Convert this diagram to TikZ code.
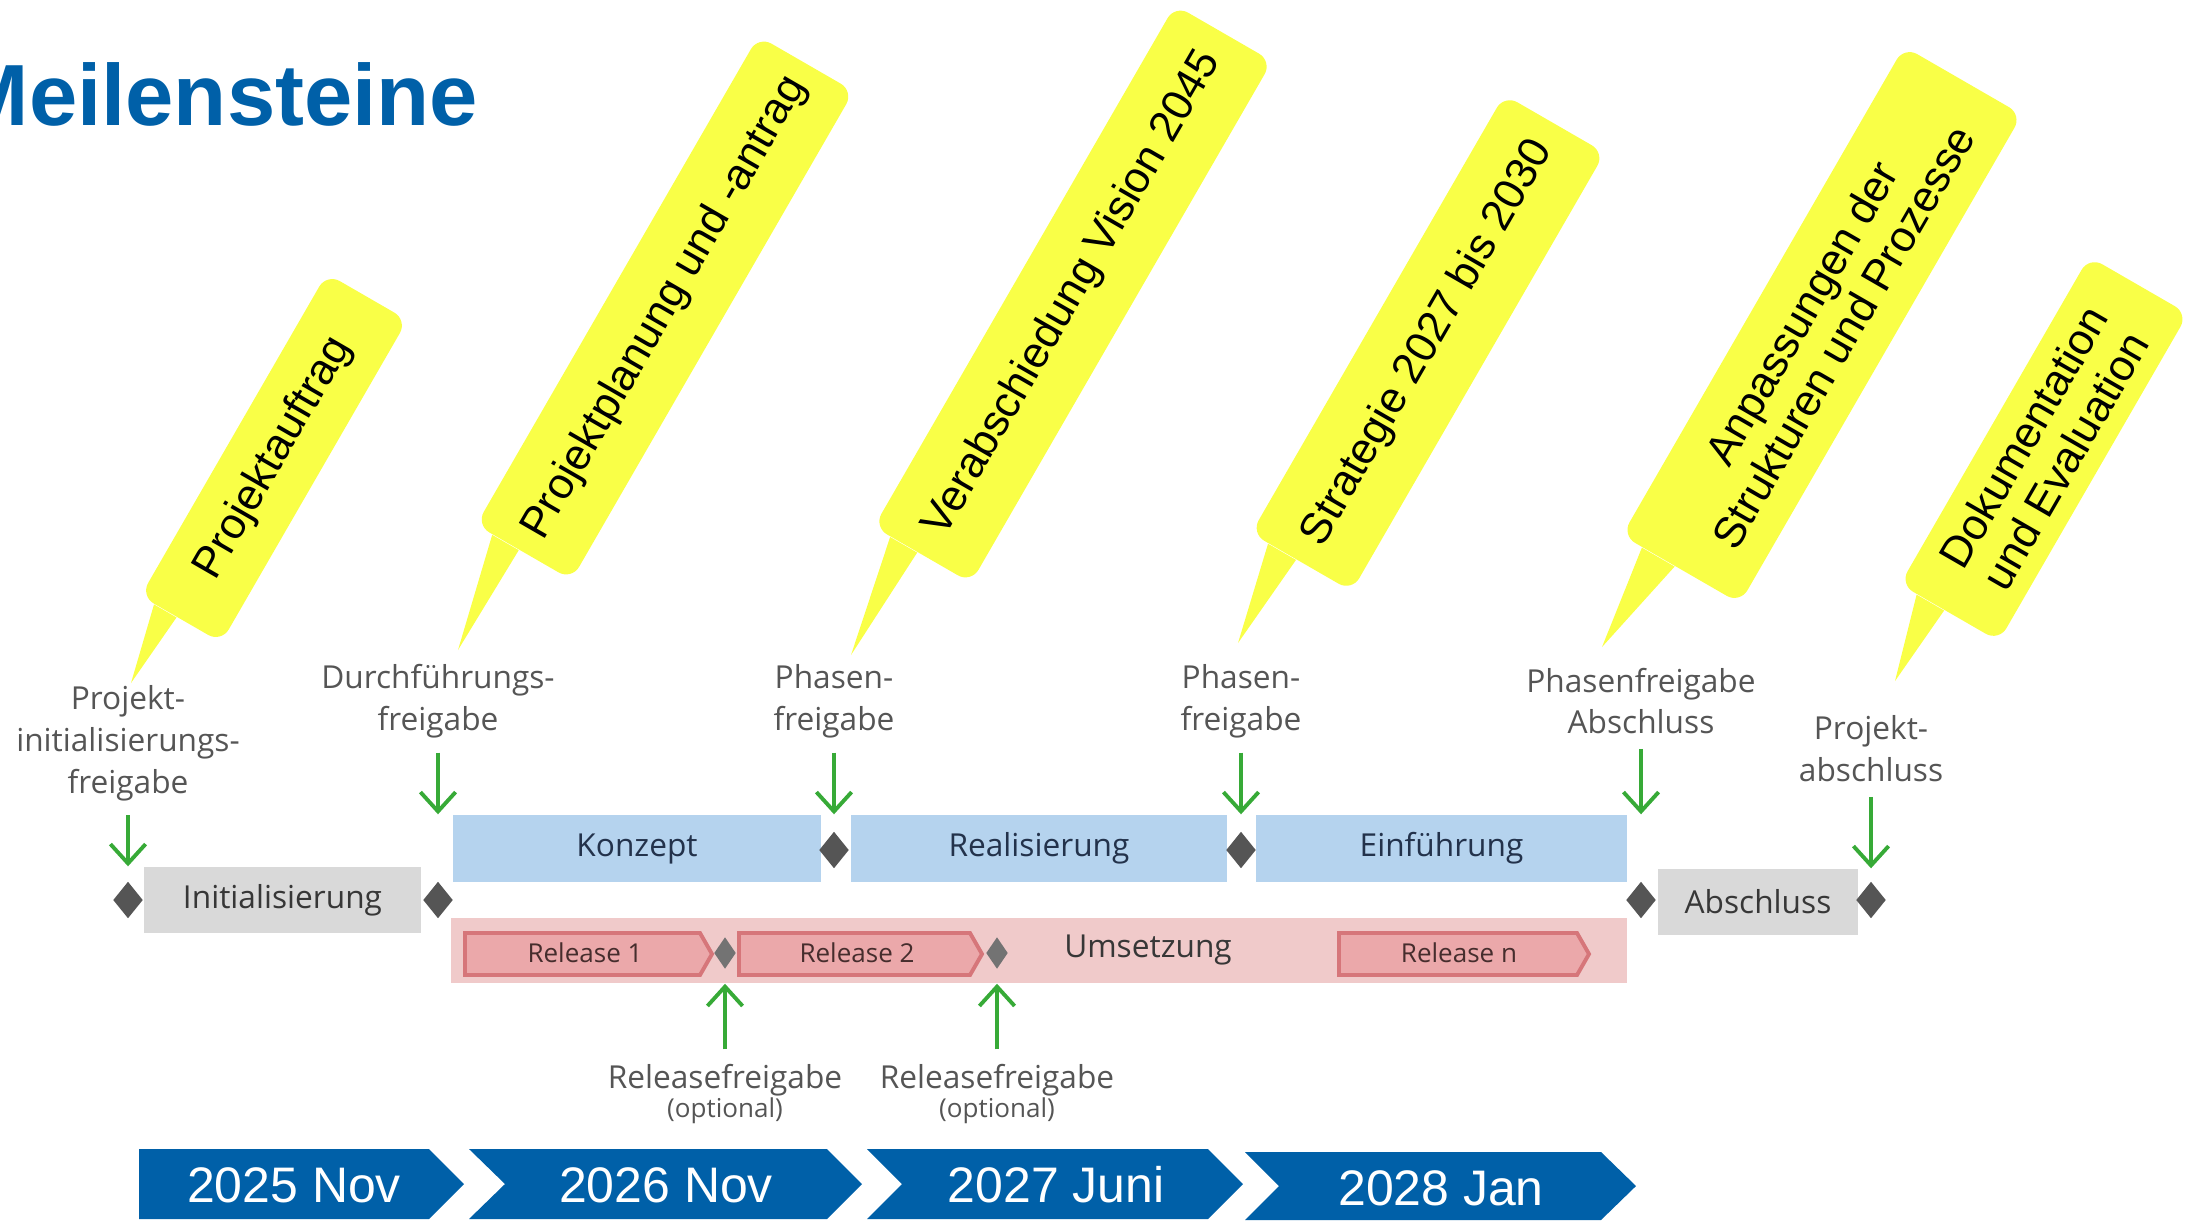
\documentclass[tikz,border=0pt]{standalone}
\usepackage{fontspec}
\setmainfont{Open Sans}
\newfontfamily\arialfont{Liberation Sans}
\usetikzlibrary{shapes.geometric,arrows.meta,calc}
\definecolor{titleblue}{RGB}{0,96,168}
\definecolor{callyellow}{RGB}{249,255,71}
\definecolor{lblgray}{RGB}{85,85,85}
\definecolor{boxgray}{RGB}{217,217,217}
\definecolor{boxtext}{RGB}{55,55,55}
\definecolor{phaseblue}{RGB}{181,211,238}
\definecolor{phasetext}{RGB}{35,50,75}
\definecolor{bandpink}{RGB}{240,202,202}
\definecolor{relfill}{RGB}{235,168,170}
\definecolor{relborder}{RGB}{214,118,122}
\definecolor{reltext}{RGB}{70,45,45}
\definecolor{gategray}{RGB}{85,85,85}
\definecolor{relgray}{RGB}{115,115,115}
\definecolor{gogreen}{RGB}{55,170,55}
\begin{document}
\begin{tikzpicture}[x=0.01cm,y=-0.01cm,
  bubble/.style={fill=callyellow,rounded corners=0.15cm,rotate=60,inner sep=0pt,align=center,font=\arialfont\fontsize{12.4}{13.6}\selectfont},
  lbl/.style={inner sep=0pt,align=center,text=lblgray,font=\fontsize{9}{11.9}\selectfont},
  phasebox/.style={fill=phaseblue,minimum height=0.67cm,inner sep=0pt,text=phasetext,font=\fontsize{9}{11}\selectfont},
  gatebox/.style={fill=boxgray,minimum height=0.66cm,inner sep=0pt,text=boxtext,font=\fontsize{9}{11}\selectfont},
  gate/.style={diamond,fill=gategray,inner sep=0pt,minimum width=0.30cm,minimum height=0.37cm},
  relgate/.style={diamond,fill=relgray,inner sep=0pt,minimum width=0.22cm,minimum height=0.32cm},
  relshape/.style={draw=relborder,fill=relfill,line width=1.1pt,line join=miter},
  reltxt/.style={inner sep=0pt,text=reltext,font=\fontsize{7.4}{9}\selectfont},
  datetxt/.style={inner sep=0pt,text=white,font=\arialfont\fontsize{14.2}{17}\selectfont},
  go/.style={draw=gogreen,line width=1.1pt,-{Straight Barb[length=5.5pt,width=10pt]},shorten <=4pt}]
\useasboundingbox (0,0) rectangle (2200,1220);
\node[anchor=base west,inner sep=0pt,text=titleblue,font=\arialfont\bfseries\fontsize{24.7}{30}\selectfont] (title) at (-44,125) {Meilensteine};
\node[bubble,minimum width=3.72cm,minimum height=0.93cm] (b1) at (274,458) {Projektauftrag};
\node[bubble,minimum width=5.64cm,minimum height=1.10cm] (b2) at (665,308) {Projektplanung und -antrag};
\node[bubble,minimum width=6.02cm,minimum height=1.12cm] (b3) at (1073,294) {Verabschiedung Vision 2045};
\node[bubble,minimum width=5.06cm,minimum height=1.16cm] (b4) at (1428,343) {Strategie 2027 bis 2030};
\node[bubble,minimum width=5.64cm,minimum height=1.36cm] (b5) at (1822,325) {Anpassungen der\\Strukturen und Prozesse};
\node[bubble,minimum width=3.78cm,minimum height=1.14cm] (b6) at (2044,449) {Dokumentation\\und Evaluation};
\coordinate (t1) at (131,683);
\coordinate (t2) at (458,650);
\coordinate (t3) at (851,655);
\coordinate (t4) at (1238,643);
\coordinate (t5) at (1602,647);
\coordinate (t6) at (1895,681);
\foreach \i in {1,...,6}
  \fill[callyellow] ($(b\i.west)!0.1!(b\i.north west)$) -- ($(b\i.west)!0.65!(b\i.north west)$) -- (t\i) -- cycle;
\node[lbl] (l1) at (128,743) {Projekt-\\initialisierungs-\\freigabe};
\node[lbl] (l2) at (438,701) {Durchführungs-\\freigabe};
\node[lbl] (l3) at (834,701) {Phasen-\\freigabe};
\node[lbl] (l4) at (1241,701) {Phasen-\\freigabe};
\node[lbl] (l5) at (1641,701) {Phasenfreigabe\\Abschluss};
\node[lbl] (l6) at (1871,749) {Projekt-\\abschluss};
\node[gatebox,minimum width=2.77cm] (init) at (282.5,900) {Initialisierung};
\node[phasebox,minimum width=3.68cm] (konz) at (637,848.5) {Konzept};
\node[phasebox,minimum width=3.76cm] (real) at (1039,848.5) {Realisierung};
\node[phasebox,minimum width=3.71cm] (einf) at (1441.5,848.5) {Einführung};
\node[gatebox,minimum width=2.00cm] (absc) at (1758,902) {Abschluss};
\node[fill=bandpink,inner sep=0pt,minimum width=11.76cm,minimum height=0.65cm] (umse) at (1039,950.5) {};
\node[inner sep=0pt,text=boxtext,font=\fontsize{9}{11}\selectfont] (umtx) at (1148,950) {Umsetzung};
\node[gate] (d1) at (128,900) {};
\node[gate] (d2) at (438,900) {};
\node[gate] (d3) at (834,850) {};
\node[gate] (d4) at (1241,850) {};
\node[gate] (d5) at (1641,900) {};
\node[gate] (d6) at (1871,900) {};
\draw[relshape] (465,933) -- (700,933) -- (712,954) -- (700,975) -- (465,975) -- cycle;
\draw[relshape] (739,933) -- (970,933) -- (982,954) -- (970,975) -- (739,975) -- cycle;
\draw[relshape] (1339,933) -- (1577,933) -- (1589,954) -- (1577,975) -- (1339,975) -- cycle;
\node[reltxt] (rel1) at (585,953) {Release 1};
\node[reltxt] (rel2) at (857,953) {Release 2};
\node[reltxt] (reln) at (1459,953) {Release n};
\node[relgate] (g1) at (725,953) {};
\node[relgate] (g2) at (997,953) {};
\node[lbl] (r1) at (725,1094) {Releasefreigabe\\[-3.6pt]{\fontsize{7.4}{8}\selectfont(optional)}};
\node[lbl] (r2) at (997,1094) {Releasefreigabe\\[-3.6pt]{\fontsize{7.4}{8}\selectfont(optional)}};
\draw[go] (l1.south) -- (l1.south |- init.north);
\draw[go] (l2.south) -- (l2.south |- konz.north);
\draw[go] (l3.south) -- (l3.south |- konz.north);
\draw[go] (l4.south) -- (l4.south |- real.north);
\draw[go] (l5.south) -- (l5.south |- einf.north);
\draw[go] (l6.south) -- (l6.south |- absc.north);
\draw[go] (r1.north) -- (r1.north |- umse.south);
\draw[go] (r2.north) -- (r2.north |- umse.south);
\fill[titleblue] (139,1149) -- (429,1149) -- (464,1184) -- (429,1219) -- (139,1219) -- cycle;
\fill[titleblue] (469,1149) -- (827,1149) -- (862,1184) -- (827,1219) -- (469,1219) -- (505,1184) -- cycle;
\fill[titleblue] (867,1149) -- (1208,1149) -- (1243,1184) -- (1208,1219) -- (867,1219) -- (902,1184) -- cycle;
\fill[titleblue] (1245,1152) -- (1601,1152) -- (1636,1186) -- (1601,1220) -- (1245,1220) -- (1279,1186) -- cycle;
\node[datetxt] (y1) at (294,1185) {2025 Nov};
\node[datetxt] (y2) at (666,1185) {2026 Nov};
\node[datetxt] (y3) at (1056,1185) {2027 Juni};
\node[datetxt] (y4) at (1441,1188) {2028 Jan};
\end{tikzpicture}
\end{document}
